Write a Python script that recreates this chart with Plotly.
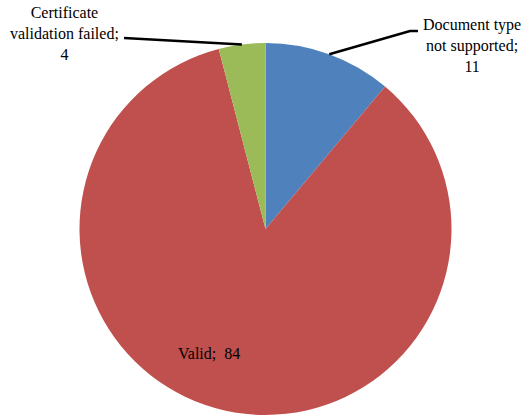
import math
import plotly.graph_objects as go

# ---- data ----
categories = ["Document type not supported", "Valid", "Certificate validation failed"]
values = [11, 84, 4]
label_lines = [["Document type", "not supported;"], ["Valid;"], ["Certificate", "validation failed;"]]
colors = ["#4F81BD", "#C0504D", "#9BBB59"]

# ---- layout geometry (pixels) ----
W, H = 526, 415
cx, cy, R = 265.5, 229.5, 186.5

def px2paper(x, y):
    return x / W, 1 - y / H

dom_x = [(cx - R) / W, (cx + R) / W]
dom_y = [max(0.0, 1 - (cy + R) / H), 1 - (cy - R) / H]

fig = go.Figure(go.Pie(
    labels=categories, values=values, sort=False, direction="clockwise", rotation=0,
    marker=dict(colors=colors, line=dict(width=0)),
    textinfo="none", hoverinfo="label+value", showlegend=False,
    domain=dict(x=dom_x, y=dom_y),
))

total = sum(values)
cum = 0
mids = []
for v in values:
    mids.append((cum + v / 2) / total)
    cum += v

def edge_point(frac, r=R):
    a = 2 * math.pi * frac
    return cx + r * math.sin(a), cy - r * math.cos(a)

# label placement style (pixel centres) and leader routing
label_pos = [(472, 45), (209, 353), (64, 34)]
leader_elbow = [[(410, 31), (418, 31)], None, [(124, 38)]]

SERIF = "Liberation Serif, Times New Roman, serif"

annotations = []
shapes = []
for i, (cat, v) in enumerate(zip(categories, values)):
    lines = label_lines[i][:]
    if len(lines) == 1:
        text = f"{lines[0]}&nbsp; {v}"
    else:
        text = "<br>".join(lines + [str(v)])
    x, y = px2paper(*label_pos[i])
    annotations.append(dict(
        x=x, y=y, xref="paper", yref="paper", text=text,
        showarrow=False, font=dict(family=SERIF, size=16, color="black"),
        xanchor="center", yanchor="middle", align="center"))
    if leader_elbow[i]:
        ex, ey = edge_point(mids[i])
        pts = [(ex, ey)] + leader_elbow[i]
        pp = [px2paper(a, b) for a, b in pts]
        path = "M " + " L ".join(f"{a},{b}" for a, b in pp)
        shapes.append(dict(type="path", path=path, xref="paper", yref="paper",
                           line=dict(color="black", width=2.5)))

fig.update_layout(
    width=W, height=H, margin=dict(l=0, r=0, t=0, b=0),
    paper_bgcolor="white", plot_bgcolor="white",
    annotations=annotations, shapes=shapes,
)
fig.write_html("out.html")
